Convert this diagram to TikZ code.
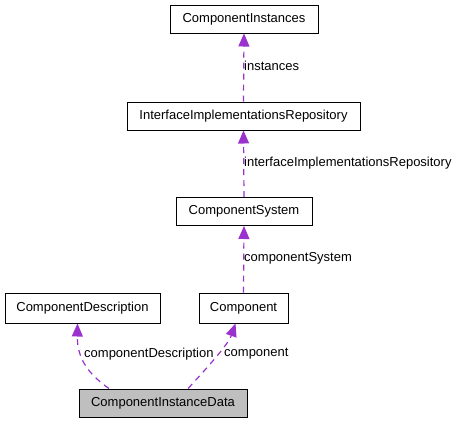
\documentclass[tikz,border=0pt]{standalone}
\usepackage{fontspec}
\setmainfont{Liberation Sans}
\usepackage{tikz}
\usetikzlibrary{arrows.meta}
\usetikzlibrary{positioning}
\definecolor{usecolor}{HTML}{9A32CD}
\tikzset{
    classbox/.style={draw=black, line width=1pt, minimum height=28pt, inner sep=0pt,
        font=\fontsize{13}{15}\selectfont},
    mainbox/.style={classbox, fill=black!25},
    usage/.style={draw=usecolor, dash pattern=on 6pt off 5pt, line width=1.2pt,
        -{Triangle[length=13pt,width=11pt,fill=usecolor]}},
    rolename/.style={anchor=west, inner sep=0pt, font=\fontsize{13}{15}\selectfont},
}
\begin{document}
\begin{tikzpicture}[x=1pt, y=-1pt]
	\useasboundingbox (0,0) rectangle (459,424);
	% classes
	\node[classbox, minimum width=148pt] (instances) at (244,19) {ComponentInstances};
	\node[classbox, minimum width=233pt] (repository) at (243.5,116) {InterfaceImplementationsRepository};
	\node[classbox, minimum width=136pt] (system) at (244,211.5) {ComponentSystem};
	\node[classbox, minimum width=155pt, minimum height=30pt] (description) at (82.5,308) {ComponentDescription};
	\node[classbox, minimum width=89pt, minimum height=30pt] (component) at (243.5,308) {Component};
	\node[mainbox, minimum width=168pt] (data) at (163,403) {ComponentInstanceData};
	% relations
	\draw[usage] (repository.north) -- (instances.south);
	\draw[usage] (system.north) -- (repository.south);
	\draw[usage] (component.north) -- (system.south);
	\draw[usage] (data.165) .. controls (90,375) and (77,360) .. ([xshift=-5pt]description.south);
	\draw[usage] (data.30) .. controls (205,370) and (228,345) .. ([xshift=-8pt]component.south);
	% role names
	\node[rolename] (l1) at (244,66) {instances};
	\node[rolename] (l2) at (244,163) {interfaceImplementationsRepository};
	\node[rolename] (l3) at (244,258) {componentSystem};
	\node[rolename] (l4) at (84,354) {componentDescription};
	\node[rolename] (l5) at (224,354) {component};
\end{tikzpicture}
\end{document}
